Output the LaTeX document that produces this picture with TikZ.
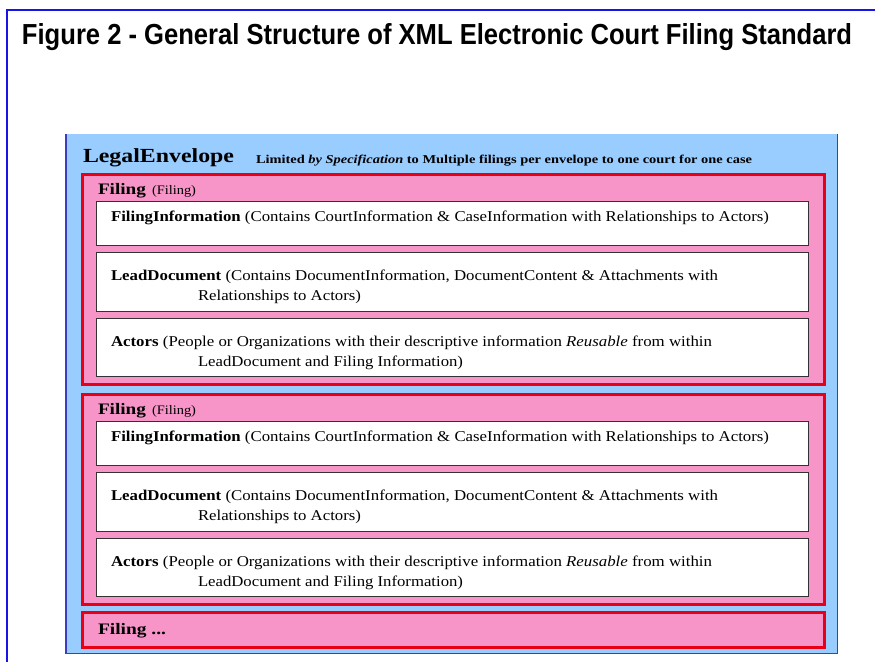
\documentclass[tikz,border=0pt]{standalone}
\usepackage{fontspec}
\usepackage{graphicx}
\setmainfont{Liberation Serif}
\newfontfamily\headfont{Liberation Sans}
\definecolor{envblue}{RGB}{153,204,255}
\definecolor{envedge}{RGB}{60,60,200}
\definecolor{framecol}{RGB}{20,20,235}
\definecolor{filingpink}{RGB}{247,148,200}
\definecolor{filingred}{RGB}{232,0,20}
\definecolor{boxedge}{RGB}{50,50,50}
% text of a given size stretched to a given width, height kept
\newcommand{\fitline}[3]{\resizebox{#1pt}{\height}{\fontsize{#2pt}{#2pt}\selectfont #3}}
\tikzset{
  txt/.style={anchor=base west, inner sep=0pt, outer sep=0pt},
  envbox/.style={anchor=north west, inner sep=0pt, fill=envblue},
  filingbox/.style={anchor=north west, inner sep=0pt, fill=filingpink, draw=filingred, line width=3pt},
  partbox/.style={anchor=north west, inner sep=0pt, fill=white, draw=boxedge, line width=1pt},
}
\begin{document}
\begin{tikzpicture}[x=1pt, y=-1pt]
\useasboundingbox (0,0) rectangle (875,662);
\fill[white] (0,0) rectangle (875,662);
% page frame
\coordinate (frTR) at (875,10);
\coordinate (frTL) at (7,10);
\coordinate (frBL) at (7,662);
\draw[framecol, line width=1.6pt] (frTR) -- (frTL) -- (frBL);
% title
\node[txt] (title) at (22,44) {\resizebox{830pt}{21pt}{\headfont\bfseries Figure 2 - General Structure of XML Electronic Court Filing Standard}};
% envelope
\node[envbox, minimum width=771pt, minimum height=519pt] (env) at (66,134) {};
\draw[envedge, line width=1.3pt] (env.north west) -- (env.south west) -- (env.south east) -- (env.north east);
\node[txt] (envtitle) at (83,162.5) {\fitline{151}{20}{\bfseries LegalEnvelope}};
\node[txt] (envnote) at (256,163) {\fitline{496}{12}{\bfseries Limited \textit{by Specification} to Multiple filings per envelope to one court for one case}};
% filings
\foreach \k/\dy in {1/0, 2/220} {
  \node[filingbox, minimum width=742pt, minimum height=210pt] (filing\k) at (81,173+\dy) {};
  \node[txt] (filinghead\k) at (98,194+\dy) {\fitline{48}{16}{\bfseries Filing}};
  \node[txt] (filingtype\k) at (152,194+\dy) {\fitline{44}{13}{(Filing)}};
  \node[partbox, minimum width=712pt, minimum height=44pt] (info\k) at (96,201+\dy) {};
  \node[partbox, minimum width=712pt, minimum height=59pt] (lead\k) at (96,252+\dy) {};
  \node[partbox, minimum width=712pt, minimum height=58pt] (actors\k) at (96,318+\dy) {};
  \node[txt] (infotext\k) at (111,221.5+\dy) {\fitline{658}{15}{\textbf{FilingInformation} (Contains CourtInformation \& CaseInformation with Relationships to Actors)}};
  \node[txt] (leadtext\k) at (111,280+\dy) {\fitline{607}{15}{\textbf{LeadDocument} (Contains DocumentInformation, DocumentContent \& Attachments with}};
  \node[txt] (leadtextb\k) at (198,300.5+\dy) {\fitline{163}{15}{Relationships to Actors)}};
  \node[txt] (actorstext\k) at (111,346+\dy) {\fitline{601}{15}{\textbf{Actors} (People or Organizations with their descriptive information \textit{Reusable} from within}};
  \node[txt] (actorstextb\k) at (198,366.5+\dy) {\fitline{265}{15}{LeadDocument and Filing Information)}};
}
\node[filingbox, minimum width=742pt, minimum height=35pt] (filing3) at (81,611) {};
\node[txt] (filinghead3) at (98,634) {\fitline{68}{16}{\bfseries Filing ...}};
\end{tikzpicture}
\end{document}
